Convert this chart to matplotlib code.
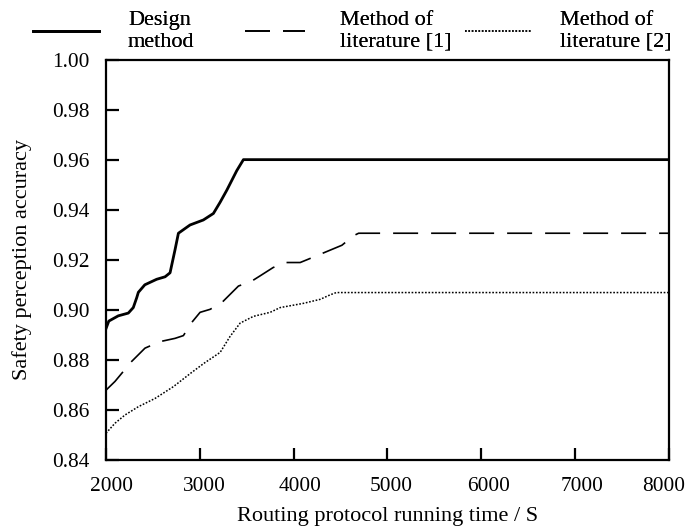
import numpy as np
import matplotlib
matplotlib.use("Agg")
import matplotlib.pyplot as plt
import matplotlib.transforms as mtransforms

# values
x_design = [2000, 2030, 2131, 2238, 2291, 2328, 2345, 2414, 2540, 2630, 2683,
            2736, 2772, 2896, 3038, 3145, 3217, 3288, 3394, 3465, 8000]
y_design = [0.8925, 0.8955, 0.8976, 0.8987, 0.9009, 0.9049, 0.9070, 0.9100,
            0.9122, 0.9132, 0.9148, 0.9240, 0.9306, 0.9339, 0.9359, 0.9385,
            0.9430, 0.9478, 0.9556, 0.9600, 0.9600]

x_lit1 = [2000, 2096, 2185, 2274, 2416, 2576, 2736, 2825, 2915, 3003, 3110,
          3235, 3412, 3555, 3644, 3782, 3910, 4070, 4142, 4284, 4515, 4639,
          4693, 8000]
y_lit1 = [0.8679, 0.8714, 0.8754, 0.8794, 0.8847, 0.8873, 0.8886, 0.8897,
          0.8950, 0.8990, 0.9002, 0.9029, 0.9095, 0.9115, 0.9136, 0.9169,
          0.9189, 0.9189, 0.9200, 0.9222, 0.9258, 0.9296, 0.9306, 0.9306]

x_lit2 = [2000, 2096, 2203, 2345, 2523, 2718, 2900, 3043, 3217, 3323, 3430,
          3572, 3750, 3857, 4106, 4284, 4390, 4455, 8000]
y_lit2 = [0.8507, 0.8547, 0.8580, 0.8613, 0.8646, 0.8693, 0.8746, 0.8786,
          0.8830, 0.8894, 0.8947, 0.8974, 0.8990, 0.9009, 0.9026, 0.9042,
          0.9060, 0.9069, 0.9069]

labels = ['Design\nmethod', 'Method of\nliterature [1]', 'Method of\nliterature [2]']
x_ticks = [2000, 3000, 4000, 5000, 6000, 7000, 8000]
y_ticks = [0.84, 0.86, 0.88, 0.90, 0.92, 0.94, 0.96, 0.98, 1.00]

plt.rcParams['font.family'] = ['Liberation Serif', 'DejaVu Serif']
plt.rcParams['font.size'] = 16

fig = plt.figure(figsize=(6.86, 5.29), dpi=100)
ax = fig.add_axes([0.1545, 0.1304, 0.8205, 0.7571])

l1, = ax.plot(x_design, y_design, color='black', linewidth=2.0)
l2, = ax.plot(x_lit1, y_lit1, color='black', linewidth=1.2, dashes=(15, 7.8))
l3, = ax.plot(x_lit2, y_lit2, color='black', linewidth=1.1, dashes=(1.1, 1.1))

ax.set_xlim(2000, 8000)
ax.set_ylim(0.84, 1.00)
ax.set_xticks(x_ticks)
ax.set_yticks(y_ticks)
ax.set_yticklabels([f'{v:.2f}' for v in y_ticks])
ax.tick_params(direction='in', length=9, width=1.6, pad=12, labelsize=15.4)
for sp in ax.spines.values():
    sp.set_linewidth(1.6)

# the x tick labels in the reference sit a little off their ticks
x_shift_px = [6, 5, 6, 4, 7, 7, -5]
for lab, dx in zip(ax.get_xticklabels(), x_shift_px):
    lab.set_transform(lab.get_transform() +
                      mtransforms.ScaledTranslation(dx / 100, 0, fig.dpi_scale_trans))

ax.set_xlabel('Routing protocol running time / S', labelpad=8)
ax.set_ylabel('Safety perception accuracy', labelpad=14)

# one legend entry per box, placed like the reference
legend_spec = [(l1, labels[0], 33, 2.97, 1.3),
               (l2, labels[1], 245, 2.7, 1.58),
               (l3, labels[2], 465, 2.97, 1.3)]
for handle, text, x0, hlen, hpad in legend_spec:
    leg = fig.legend([handle], [text], loc='lower left',
                     bbox_to_anchor=(x0 / 686, 1 - 52 / 529),
                     frameon=False, handlelength=hlen, handletextpad=hpad,
                     borderpad=0, borderaxespad=0, fontsize=16)
    fig.add_artist(leg)

fig.savefig('out.png', dpi=100)
